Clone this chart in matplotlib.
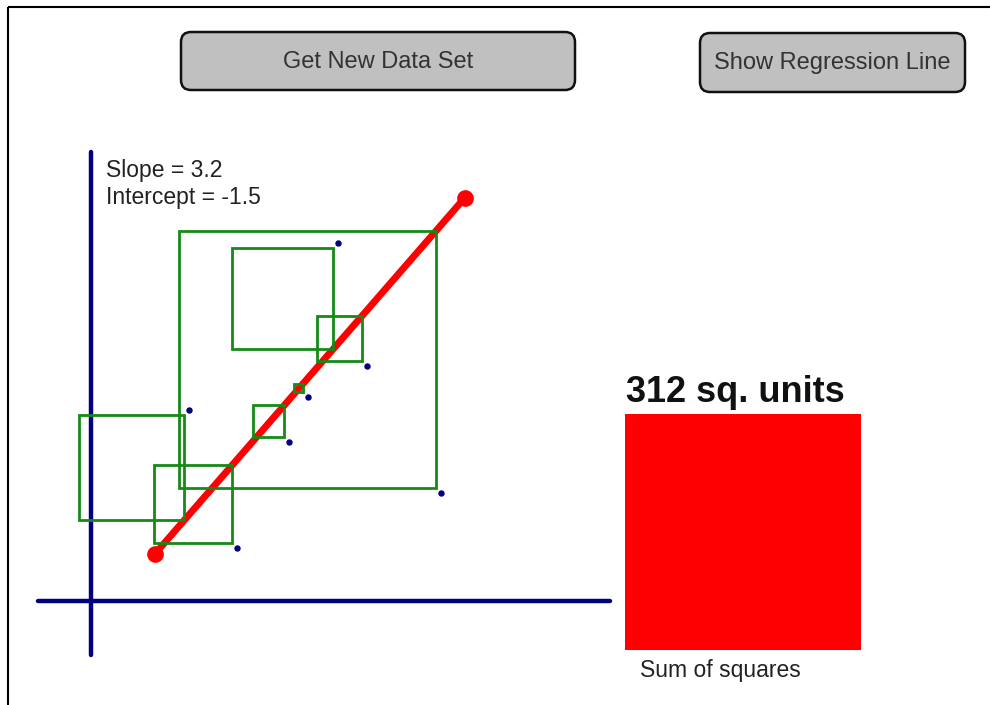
import matplotlib.pyplot as plt
from matplotlib.patches import Rectangle, FancyBboxPatch
import matplotlib.transforms as mtransforms
import numpy as np

plt.rcParams['font.family'] = ['Liberation Sans', 'DejaVu Sans']

# line chosen by the user
slope = 3.2
intercept = -1.5
line_x = np.array([1.31, 7.63])

# data points
x_pts = np.array([7.04, 4.94, 5.53, 4.33, 3.94, 1.90, 2.88])
y_pts = np.array([6.42, 20.06, 13.64, 11.85, 9.32, 10.57, 3.30])

buttons = ['Get New Data Set', 'Show Regression Line']

resid = y_pts - (slope * x_pts + intercept)
sum_sq = np.sum(resid ** 2)

fig = plt.figure(figsize=(9.9, 7.05), dpi=100)

# overlay in pixel units for the "applet" parts
ui = fig.add_axes([0, 0, 1, 1])
ui.set_xlim(0, 990)
ui.set_ylim(705, 0)
ui.axis('off')

# frame
ui.add_patch(Rectangle((8, 7), 1000, 720, fill=False, lw=1.5, ec='black', clip_on=False))

# buttons
btn_boxes = [(181, 32, 394, 58), (700, 33, 265, 59)]
for (bx, by, bw, bh), label in zip(btn_boxes, buttons):
    ui.add_patch(FancyBboxPatch((bx, by), bw, bh, boxstyle='round,pad=0,rounding_size=10',
                                fc='#c0c0c0', ec='#111111', lw=1.8))
    ui.text(bx + bw / 2, by + bh / 2 + 1, label, ha='center', va='center',
            fontsize=17, color='#333333')

# sum of squares box, area proportional to the sum
box_scale = 13.36
side = box_scale * np.sqrt(sum_sq)
ui.add_patch(Rectangle((625, 650 - side), side, side, fc='#ff0000', ec='none'))
ui.text(626, 402, f'{sum_sq:.0f} sq. units', fontsize=26, fontweight='bold',
        color='#111111', va='baseline')
ui.text(640, 677, 'Sum of squares', fontsize=16.5, color='#222222', va='baseline')

# the scatter plot
ax = fig.add_axes([38 / 990, 50 / 705, 572 / 990, 503 / 705])
ax.set_xlim(-1.082, 10.592)
ax.set_ylim(-3.068, 25.511)
ax.patch.set_alpha(0)
for s in ['top', 'right']:
    ax.spines[s].set_visible(False)
for s in ['left', 'bottom']:
    ax.spines[s].set_position(('data', 0))
    ax.spines[s].set_color('#000080')
    ax.spines[s].set_linewidth(3.2)
    ax.spines[s].set_capstyle('round')
ax.set_xticks([])
ax.set_yticks([])

ppx = ax.bbox.width / (ax.get_xlim()[1] - ax.get_xlim()[0])
ppy = ax.bbox.height / (ax.get_ylim()[1] - ax.get_ylim()[0])

ax.plot(line_x, slope * line_x + intercept, color='#ff0000', lw=5.0,
        solid_capstyle='round', marker='o', markersize=11, zorder=3)

for x, y, r in zip(x_pts, y_pts, resid):
    h = abs(r)
    w = h * ppy / ppx
    ax.add_patch(Rectangle((x - w, min(y, y - r)), w, h, fill=False,
                           ec='#158a15', lw=2.0, zorder=4))
    tr = mtransforms.offset_copy(ax.transData, fig=fig, x=5, y=5 if r > 0 else -5, units='dots')
    ax.plot([x], [y], 'o', color='#000080', markersize=3.6, transform=tr, zorder=5)

ax.text(0.3, 24.1, f'Slope = {slope}', fontsize=16.5, color='#222222', va='baseline')
ax.text(0.3, 22.55, f'Intercept = {intercept}', fontsize=16.5, color='#222222', va='baseline')

fig.savefig('out.png', dpi=100)
